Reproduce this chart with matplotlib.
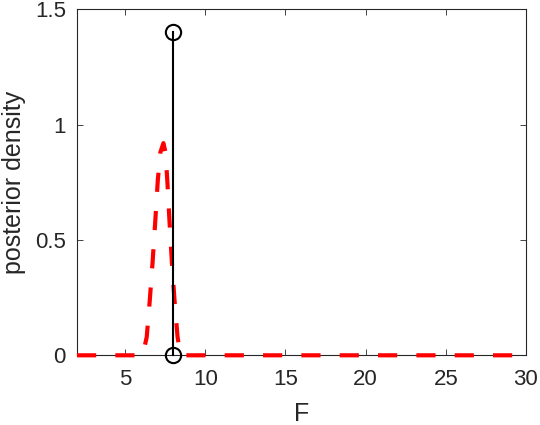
import numpy as np
import matplotlib.pyplot as plt

# posterior density curve
F_grid = [2, 6.1, 6.35, 6.54, 6.71, 6.88, 7.04, 7.2, 7.39, 7.52, 7.63, 7.77, 7.92, 8.08, 8.27, 8.45, 30]
density = [0, 0, 0.08, 0.24, 0.40, 0.58, 0.76, 0.88, 0.92, 0.88, 0.76, 0.58, 0.40, 0.24, 0.08, 0, 0]

# true value shown as a stem
F_true = [8, 8]
stem_y = [0, 1.4]

xticks = [5, 10, 15, 20, 25, 30]
yticks = [0, 0.5, 1, 1.5]
ytick_labels = ['0', '0.5', '1', '1.5']

plt.rcParams['font.family'] = ['Liberation Sans', 'DejaVu Sans']
axcol = '#262626'

fig = plt.figure(figsize=(5.4, 4.25), dpi=100)
ax = fig.add_axes([0.1426, 0.164, 0.974 - 0.1426, 0.978 - 0.164])

ax.plot(F_grid, density, color='red', linewidth=3, linestyle=(0, (4.6, 4.6)),
        dash_capstyle='butt', clip_on=False, zorder=3)
ax.plot(F_true, stem_y, color='black', linewidth=1.5, marker='o', markersize=11,
        markerfacecolor='none', markeredgewidth=1.5, clip_on=False, zorder=4)

ax.set_xlim(2, 30)
ax.set_ylim(0, 1.5)
ax.set_xticks(xticks)
ax.set_yticks(yticks)
ax.set_yticklabels(ytick_labels)
ax.set_xlabel('F', fontsize=18, color=axcol)
ax.set_ylabel('posterior density', fontsize=18, color=axcol)
ax.xaxis.set_label_coords(0.5, -0.17)
ax.xaxis.label.set_va('center')
ax.yaxis.set_label_coords(-0.14, 0.5)
ax.yaxis.label.set_va('center')

for s in ax.spines.values():
    s.set_color(axcol)
    s.set_linewidth(0.8)
ax.tick_params(direction='in', length=4, width=0.6, colors=axcol, labelsize=16,
               top=True, right=True)
ax.tick_params(axis='x', pad=10)
ax.tick_params(axis='y', pad=8)

fig.savefig('out.png', dpi=100)
